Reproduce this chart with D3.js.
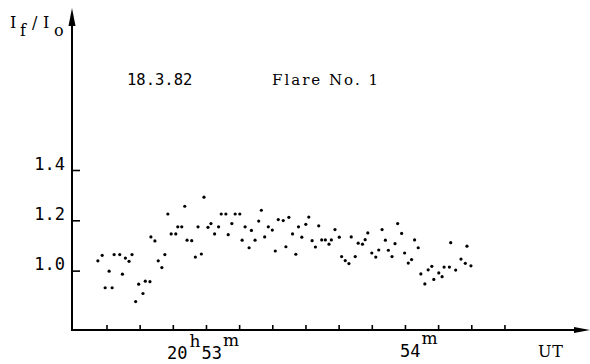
<!DOCTYPE html>
<html>
<head>
<meta charset="utf-8">
<script src="https://cdn.jsdelivr.net/npm/d3@7"></script>
<style>
  body { margin: 0; background: #fff; }
</style>
</head>
<body>
<script>
const width = 590;
const height = 364;

// time of each measurement, seconds after 20h53m00s UT
const seconds = [
  -32.6, -31.3, -30.4, -29.2, -28.3, -27.7, -26.0, -25.2, -24.3, -23.2,
  -22.3, -21.2, -20.3, -19.0, -18.3, -16.9, -16.6, -15.4, -14.4, -13.3,
  -12.4, -11.5, -10.5, -9.1, -8.5, -7.3, -6.4, -5.7, -4.3, -3.2,
  -2.4, -1.4, -0.6, 0.6, 1.5, 2.6, 3.8, 4.6, 6.0, 6.7,
  7.8, 8.8, 10.2, 10.9, 11.8, 13.0, 13.7, 14.8, 15.9, 16.7,
  17.7, 18.8, 20.0, 20.9, 21.8, 23.3, 24.1, 25.0, 26.1, 27.1,
  27.9, 28.9, 30.1, 31.0, 32.0, 33.0, 34.0, 34.9, 36.0, 37.1,
  37.8, 38.9, 40.2, 40.9, 42.0, 43.1, 43.8, 45.0, 45.9, 47.2,
  48.0, 48.8, 50.0, 51.2, 52.1, 53.1, 54.1, 55.0, 56.1, 57.0,
  57.8, 59.0, 59.9, 61.0, 62.0, 62.9, 64.0, 64.8, 66.0, 67.0,
  68.1, 68.7, 70.2, 71.2, 71.8, 73.4, 73.8, 75.3, 76.9, 78.2,
  78.7, 79.9
];

// intensity ratio I_f / I_o
const ratio = [
  1.039, 1.061, 0.932, 0.998, 0.932, 1.064, 1.064, 0.986, 1.050, 1.037,
  1.064, 0.877, 0.946, 0.909, 0.958, 0.956, 1.134, 1.118, 1.039, 1.012,
  1.064, 1.225, 1.146, 1.146, 1.174, 1.174, 1.256, 1.121, 1.119, 1.054,
  1.174, 1.066, 1.292, 1.172, 1.187, 1.146, 1.174, 1.225, 1.225, 1.143,
  1.187, 1.225, 1.225, 1.121, 1.174, 1.091, 1.160, 1.121, 1.197, 1.240,
  1.134, 1.174, 1.161, 1.078, 1.203, 1.199, 1.095, 1.212, 1.146, 1.065,
  1.174, 1.133, 1.184, 1.213, 1.119, 1.094, 1.178, 1.122, 1.122, 1.105,
  1.122, 1.163, 1.133, 1.056, 1.040, 1.028, 1.134, 1.056, 1.109, 1.105,
  1.123, 1.150, 1.070, 1.054, 1.082, 1.163, 1.121, 1.081, 1.056, 1.107,
  1.187, 1.148, 1.070, 1.030, 1.044, 1.122, 1.091, 0.987, 0.947, 1.003,
  1.017, 0.965, 0.991, 0.976, 1.014, 1.014, 1.111, 1.002, 1.046, 1.029,
  1.097, 1.019
];

const xTicks = [-30, -20, -10, 0, 10, 20, 30, 40, 50, 60, 70, 80, 90];
const yTicks = [1.0, 1.2, 1.4];

// typewriter look: serif letters, mono sans digits
const serif = "'DejaVu Serif', 'Liberation Serif', serif";
const sans = "'DejaVu Sans Mono', monospace";

const svg = d3
  .select("body")
  .append("svg")
  .attr("width", width)
  .attr("height", height);

const x = d3.scaleLinear().domain([-40.4, 115.8]).range([72, 590]);
const y = d3.scaleLinear().domain([0.76, 2.04]).range([331, 9]);

const axisY = 330;

// x axis with small upward ticks
const xAxis = svg
  .append("g")
  .attr("transform", `translate(0, ${axisY})`)
  .call(d3.axisBottom(x).tickValues(xTicks).tickSize(-5).tickFormat(""));
xAxis.select(".domain").remove();
xAxis.selectAll("line").attr("stroke", "#000").attr("stroke-width", 1.6);

svg
  .append("line")
  .attr("x1", 71)
  .attr("x2", 578)
  .attr("y1", axisY)
  .attr("y2", axisY)
  .attr("stroke", "#000")
  .attr("stroke-width", 2);

svg
  .append("path")
  .attr("d", `M590,${axisY} L574,${axisY - 3} L574,${axisY + 3} Z`)
  .attr("fill", "#000");

// y axis, ticks pointing inward
const yAxis = svg
  .append("g")
  .attr("transform", "translate(72, 0)")
  .call(
    d3
      .axisLeft(y)
      .tickValues(yTicks)
      .tickSize(-8)
      .tickPadding(7)
      .tickFormat(d3.format(".1f"))
  );
yAxis.select(".domain").remove();
yAxis.selectAll("line").attr("stroke", "#000").attr("stroke-width", 1.6);
yAxis
  .selectAll("text")
  .attr("dy", "-0.05em")
  .attr("fill", "#000")
  .style("font-family", sans)
  .style("font-size", "17px");

svg
  .append("line")
  .attr("x1", 72)
  .attr("x2", 72)
  .attr("y1", axisY + 1)
  .attr("y2", 22)
  .attr("stroke", "#000")
  .attr("stroke-width", 2);

svg
  .append("path")
  .attr("d", "M72,8 L68.5,26 L75.5,26 Z")
  .attr("fill", "#000");

// measured points
svg
  .selectAll(".pt")
  .data(seconds)
  .enter()
  .append("circle")
  .attr("class", "pt")
  .attr("cx", (d) => x(d))
  .attr("cy", (d, i) => y(ratio[i]))
  .attr("r", 1.6)
  .attr("fill", "#000");

// y axis label I_f / I_o
const yLabel = svg
  .append("text")
  .attr("y", 28)
  .style("font-family", serif)
  .style("font-size", "16px")
  .attr("fill", "#000");
yLabel.append("tspan").attr("x", 10).text("I");
yLabel.append("tspan").attr("x", 20).attr("dy", 8).text("f");
yLabel.append("tspan").attr("x", 32).attr("dy", -8).text("/");
yLabel.append("tspan").attr("x", 43).text("I");
yLabel.append("tspan").attr("x", 54).attr("dy", 8).text("o");

// date and flare number
svg
  .append("text")
  .attr("x", 127)
  .attr("y", 85)
  .style("font-family", sans)
  .style("font-size", "15.5px")
  .attr("fill", "#000")
  .text("18.3.82");

svg
  .append("text")
  .attr("x", 272)
  .attr("y", 85)
  .attr("textLength", 106)
  .attr("lengthAdjust", "spacing")
  .style("font-family", serif)
  .style("font-size", "15px")
  .attr("fill", "#000")
  .text("Flare No. 1");

// time labels
const t53 = svg
  .append("text")
  .attr("x", x(0) - 39)
  .attr("y", 359)
  .attr("fill", "#000");
t53.append("tspan").style("font-family", sans).style("font-size", "17px").text("20");
t53.append("tspan").style("font-family", serif).style("font-size", "17px").attr("dx", 2).attr("dy", -12).text("h");
t53.append("tspan").style("font-family", sans).style("font-size", "17px").attr("dx", 1).attr("dy", 12).text("53");
t53.append("tspan").style("font-family", serif).style("font-size", "17px").attr("dx", 1).attr("dy", -13).text("m");

const t54 = svg
  .append("text")
  .attr("x", x(60) - 5)
  .attr("y", 357)
  .attr("fill", "#000");
t54.append("tspan").style("font-family", sans).style("font-size", "17px").text("54");
t54.append("tspan").style("font-family", serif).style("font-size", "17px").attr("dx", 1).attr("dy", -13).text("m");

svg
  .append("text")
  .attr("x", 538)
  .attr("y", 357)
  .attr("textLength", 25)
  .attr("lengthAdjust", "spacing")
  .style("font-family", serif)
  .style("font-size", "16px")
  .attr("fill", "#000")
  .text("UT");
</script>
</body>
</html>
